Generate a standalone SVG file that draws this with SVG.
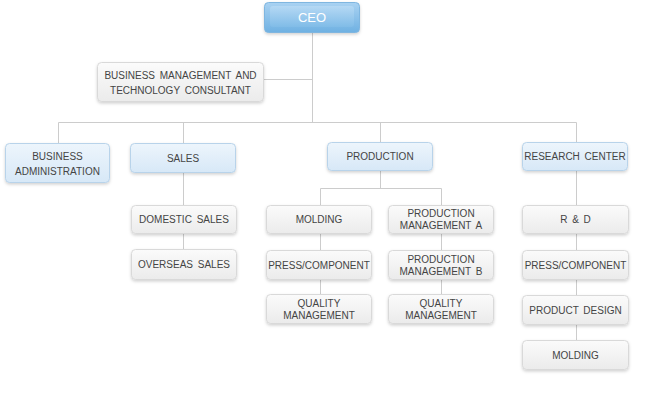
<svg xmlns="http://www.w3.org/2000/svg" width="661" height="418" viewBox="0 0 661 418">
<defs>
<linearGradient id="gGray" x1="0" y1="0" x2="0" y2="1">
<stop offset="0" stop-color="#fbfbfb"/><stop offset="1" stop-color="#ebebeb"/>
</linearGradient>
<linearGradient id="gBlue" x1="0" y1="0" x2="0" y2="1">
<stop offset="0" stop-color="#edf5fc"/><stop offset="1" stop-color="#d7e8f7"/>
</linearGradient>
<linearGradient id="gCeo" x1="0" y1="0" x2="0" y2="1">
<stop offset="0" stop-color="#a9d2f2"/><stop offset="1" stop-color="#6fb1e2"/>
</linearGradient>
<linearGradient id="gCeoIn" x1="0" y1="0" x2="0" y2="1">
<stop offset="0" stop-color="#b9dbf5"/><stop offset="1" stop-color="#82bde8"/>
</linearGradient>
<filter id="sh" x="-10%" y="-20%" width="120%" height="150%">
<feDropShadow dx="0" dy="1.5" stdDeviation="1.5" flood-color="#000" flood-opacity="0.18"/>
</filter>
</defs>
<style>
.g{fill:url(#gGray);stroke:#d9d9d9;stroke-width:1;filter:url(#sh)}
.b{fill:url(#gBlue);stroke:#b8d3ea;stroke-width:1;filter:url(#sh)}
.t{font-family:"Liberation Sans",Arial,sans-serif;font-size:10px;fill:#444444;text-anchor:middle;word-spacing:2px}
.tc{font-family:"Liberation Sans",Arial,sans-serif;font-size:13px;fill:#ffffff;text-anchor:middle}
.ln{stroke:#cccccc;stroke-width:1;fill:none}
</style>
<rect width="661" height="418" fill="#ffffff"/>
<g id="connectors" class="ln">
<path d="M312.5 33V122.5"/>
<path d="M264 79.5H312.5"/>
<path d="M58.5 122.5H576.5"/>
<path d="M58.5 122.5V143"/>
<path d="M183.5 122.5V143"/>
<path d="M380.5 122.5V142"/>
<path d="M576.5 122.5V142"/>
<path d="M183.5 173V205"/>
<path d="M183.5 234V249"/>
<path d="M380.5 171V188.5"/>
<path d="M320.5 188.5H441.5"/>
<path d="M320.5 188.5V205"/>
<path d="M441.5 188.5V205"/>
<path d="M320.5 234V250M320.5 280V294"/>
<path d="M441.5 234V250M441.5 280V294"/>
<path d="M576.5 171V205M576.5 234V250M576.5 280V295M576.5 325V340"/>
</g>
<g id="ceo">
<rect x="264.5" y="2.5" width="95" height="30" rx="4" fill="url(#gCeo)" stroke="#7fb6e0" filter="url(#sh)"/>
<rect x="270" y="6" width="84" height="21" rx="3" fill="url(#gCeoIn)" opacity="0.8"/>
<text class="tc" x="312" y="22">CEO</text>
</g>
<g id="consultant">
<rect class="g" x="97.5" y="62.5" width="166" height="39" rx="4"/>
<text class="t" x="180.5" y="78.5">BUSINESS MANAGEMENT AND</text>
<text class="t" x="180.5" y="93.5">TECHNOLOGY CONSULTANT</text>
</g>
<g id="business-administration">
<rect class="b" x="5.5" y="143.5" width="104" height="39" rx="4"/>
<text class="t" x="57.5" y="159.5">BUSINESS</text>
<text class="t" x="57.5" y="174.5">ADMINISTRATION</text>
</g>
<g id="sales">
<rect class="b" x="130.5" y="143.5" width="105" height="29" rx="4"/>
<text class="t" x="183" y="161.5">SALES</text>
</g>
<g id="production">
<rect class="b" x="327.5" y="142.5" width="105" height="28" rx="4"/>
<text class="t" x="380" y="160">PRODUCTION</text>
</g>
<g id="research-center">
<rect class="b" x="522.5" y="142.5" width="105" height="28" rx="4"/>
<text class="t" x="575" y="160">RESEARCH CENTER</text>
</g>
<g id="domestic-sales">
<rect class="g" x="131.5" y="205.5" width="105" height="28" rx="4"/>
<text class="t" x="184" y="223">DOMESTIC SALES</text>
</g>
<g id="overseas-sales">
<rect class="g" x="131.5" y="249.5" width="105" height="30" rx="4"/>
<text class="t" x="184" y="268">OVERSEAS SALES</text>
</g>
<g id="molding-1">
<rect class="g" x="266.5" y="205.5" width="105" height="28" rx="4"/>
<text class="t" x="319" y="223">MOLDING</text>
</g>
<g id="press-component-1">
<rect class="g" x="266.5" y="250.5" width="105" height="29" rx="4"/>
<text class="t" x="319" y="268.5">PRESS/COMPONENT</text>
</g>
<g id="quality-management-1">
<rect class="g" x="266.5" y="294.5" width="105" height="29" rx="4"/>
<text class="t" x="319" y="306.5">QUALITY</text>
<text class="t" x="319" y="319">MANAGEMENT</text>
</g>
<g id="production-management-a">
<rect class="g" x="388.5" y="205.5" width="105" height="28" rx="4"/>
<text class="t" x="441" y="217">PRODUCTION</text>
<text class="t" x="441" y="229">MANAGEMENT A</text>
</g>
<g id="production-management-b">
<rect class="g" x="388.5" y="250.5" width="105" height="29" rx="4"/>
<text class="t" x="441" y="262.5">PRODUCTION</text>
<text class="t" x="441" y="274.5">MANAGEMENT B</text>
</g>
<g id="quality-management-2">
<rect class="g" x="388.5" y="294.5" width="105" height="29" rx="4"/>
<text class="t" x="441" y="306.5">QUALITY</text>
<text class="t" x="441" y="319">MANAGEMENT</text>
</g>
<g id="r-and-d">
<rect class="g" x="522.5" y="205.5" width="106" height="28" rx="4"/>
<text class="t" x="575.5" y="223">R &amp; D</text>
</g>
<g id="press-component-2">
<rect class="g" x="522.5" y="250.5" width="106" height="29" rx="4"/>
<text class="t" x="575.5" y="268.5">PRESS/COMPONENT</text>
</g>
<g id="product-design">
<rect class="g" x="522.5" y="295.5" width="106" height="29" rx="4"/>
<text class="t" x="575.5" y="313.5">PRODUCT DESIGN</text>
</g>
<g id="molding-2">
<rect class="g" x="522.5" y="340.5" width="106" height="29" rx="4"/>
<text class="t" x="575.5" y="358.5">MOLDING</text>
</g>
</svg>
